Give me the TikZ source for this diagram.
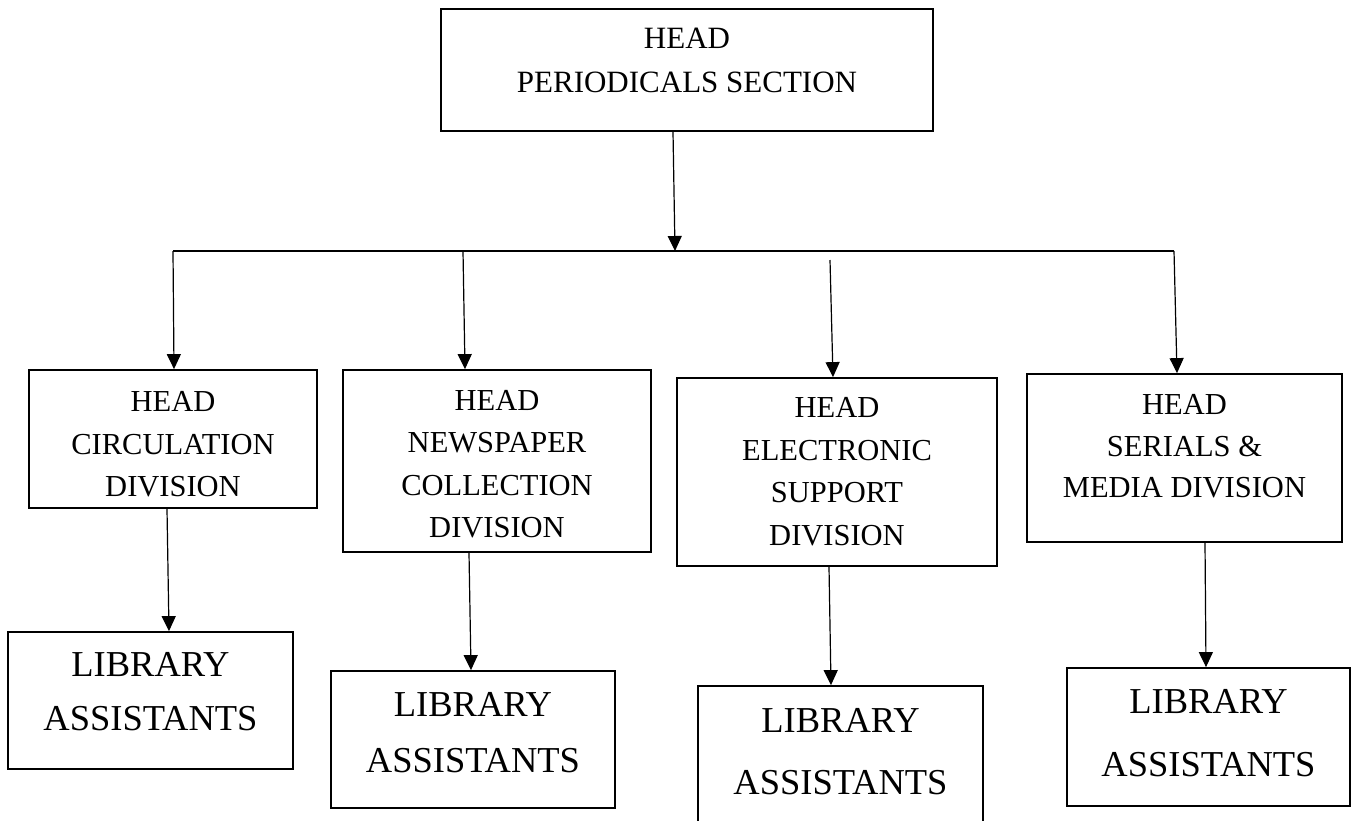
\documentclass[tikz,border=0pt]{standalone}
\usepackage{fontspec}
\setmainfont{Liberation Serif}
\usetikzlibrary{arrows.meta}

\begin{document}
\begin{tikzpicture}[x=1pt,y=-1pt,
  boxshape/.style={draw, line width=1.8pt, rectangle, inner sep=0pt},
  headtxt/.style={inner sep=0pt, align=center, font=\fontsize{30.5}{42.5}\selectfont},
  libtxt/.style={inner sep=0pt, align=center, font=\fontsize{36.5}{55}\selectfont},
  arr/.style={line width=1.2pt, -{Triangle[width=14pt,length=15pt]}},
  link/.style={line width=1.2pt}]

  \useasboundingbox (0,0) rectangle (1351,820);

  % top level
  \node[boxshape, minimum width=492pt, minimum height=122pt] (top) at (687,70) {};
  \node[headtxt, font=\fontsize{31}{44}\selectfont] (toptxt) at (687,60) {HEAD\\PERIODICALS SECTION};

  % division heads
  \node[boxshape, minimum width=288pt, minimum height=138pt] (d1) at (173,439) {};
  \node[headtxt] (d1txt) at (173,444.5) {HEAD\\CIRCULATION\\DIVISION};

  \node[boxshape, minimum width=308pt, minimum height=182pt] (d2) at (497,461) {};
  \node[headtxt] (d2txt) at (497,464) {HEAD\\NEWSPAPER\\COLLECTION\\DIVISION};

  \node[boxshape, minimum width=320pt, minimum height=188pt] (d3) at (837,472) {};
  \node[headtxt] (d3txt) at (837,471.5) {HEAD\\ELECTRONIC\\SUPPORT\\DIVISION};

  \node[boxshape, minimum width=315pt, minimum height=168pt] (d4) at (1184.5,458) {};
  \node[headtxt, font=\fontsize{30.5}{41.5}\selectfont] (d4txt) at (1184.5,446.5) {HEAD\\SERIALS \&\\MEDIA DIVISION};

  % library assistants
  \node[boxshape, minimum width=285pt, minimum height=137pt] (l1) at (150.5,700.5) {};
  \node[libtxt, font=\fontsize{36.5}{54}\selectfont] (l1txt) at (150.5,692) {LIBRARY\\ASSISTANTS};

  \node[boxshape, minimum width=284pt, minimum height=137pt] (l2) at (473,739.5) {};
  \node[libtxt, font=\fontsize{36.5}{56}\selectfont] (l2txt) at (473,733) {LIBRARY\\ASSISTANTS};

  \node[boxshape, minimum width=285pt, minimum height=140pt] (l3) at (840.5,756) {};
  \node[libtxt, font=\fontsize{36.5}{62}\selectfont] (l3txt) at (840.5,751.5) {LIBRARY\\ASSISTANTS};

  \node[boxshape, minimum width=283pt, minimum height=138pt] (l4) at (1208.5,737) {};
  \node[libtxt, font=\fontsize{36.5}{63}\selectfont] (l4txt) at (1208.5,733.5) {LIBRARY\\ASSISTANTS};

  % distribution bar
  \coordinate (hub) at (675,251);
  \coordinate (j1) at (173,251);
  \coordinate (j2) at (463,251);
  \coordinate (j3) at (830,260);
  \coordinate (j4) at (1174,251);

  \draw[arr] ([xshift=-14pt]top.south) -- (hub);
  \draw[link] (j1) -- (j4);

  \draw[arr] (j1) -- ([xshift=1pt]d1.north);
  \draw[arr] (j2) -- ([xshift=-32pt]d2.north);
  \draw[arr] (j3) -- ([xshift=-4pt]d3.north);
  \draw[arr] (j4) -- ([xshift=-7.5pt]d4.north);

  % heads to assistants
  \draw[arr] ([xshift=-6pt]d1.south) -- ([xshift=18.5pt]l1.north);
  \draw[arr] ([xshift=-28pt]d2.south) -- ([xshift=-2pt]l2.north);
  \draw[arr] ([xshift=-8pt]d3.south) -- ([xshift=-9.5pt]l3.north);
  \draw[arr] ([xshift=20.5pt]d4.south) -- ([xshift=-2.5pt]l4.north);
\end{tikzpicture}
\end{document}
